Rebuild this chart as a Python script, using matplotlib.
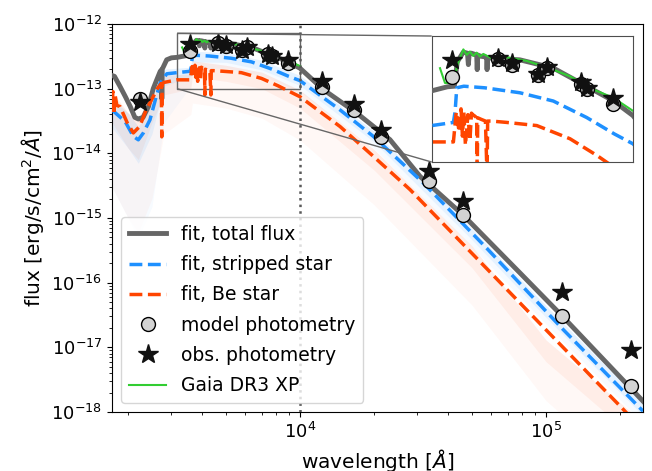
from matplotlib import pyplot as plt
from mpl_toolkits.axes_grid1.inset_locator import mark_inset
import numpy as np

# total flux of the fit (grey)
wl_tot = [1720, 1760, 1850, 1950, 2040, 2130, 2200, 2300, 2420, 2530, 2600, 2700, 2732, 2742, 2752,
          2870, 3000, 3160, 3460, 3600, 3660, 3790, 3880, 3900, 3920, 3970, 4050, 4090, 4102, 4115,
          4180, 4280, 4330, 4340, 4352, 4420, 5236, 6340, 7670, 8930, 10000, 12430, 17000, 23200,
          30760, 45800, 78300, 115900, 248000]
f_tot = [1.6e-13, 1.55e-13, 1.1e-13, 7.5e-14, 5.3e-14, 3.6e-14, 3.4e-14, 3.6e-14, 5.3e-14, 1.0e-13,
         1.3e-13, 1.85e-13, 1.95e-13, 7e-14, 2.0e-13,
         2.8e-13, 3.0e-13, 3.05e-13, 3.25e-13, 3.28e-13, 4.8e-13, 5.6e-13, 5.5e-13, 4.6e-13, 5.5e-13,
         5.5e-13, 5.4e-13, 5.35e-13, 4.25e-13, 5.35e-13,
         5.25e-13, 5.2e-13, 5.15e-13, 4.25e-13, 5.15e-13, 5.1e-13, 4.96e-13, 4.36e-13, 3.28e-13,
         2.61e-13, 2.07e-13, 9.7e-14, 4.2e-14, 1.63e-14,
         4.4e-15, 1.13e-15, 1.42e-16, 3.1e-17, 1.47e-18]

# stripped star (blue)
wl_strip = [1720, 1945, 2100, 2200, 2307, 2454, 2600, 2698, 2873, 3162, 3580, 3615, 3650, 3800,
            4280, 5236, 6340, 7670, 9000, 10000, 14540, 19860, 31700, 58100, 117500, 248000]
f_strip = [4.7e-14, 3.1e-14, 1.83e-14, 1.62e-14, 2.07e-14, 3.3e-14, 7.5e-14, 1.22e-13, 1.7e-13,
           1.77e-13, 1.86e-13, 2.2e-13, 3.2e-13, 3.28e-13,
           3.2e-13, 2.96e-13, 2.6e-13, 2.01e-13, 1.55e-13, 1.33e-13, 4.7e-14, 1.83e-14, 3.49e-15,
           3.25e-16, 1.88e-17, 1.03e-18]

# Be star (orange-red)
wl_be = [1720, 1735, 1750, 1770, 1800, 1854, 1985, 2100, 2230, 2370, 2533, 2650, 2730, 2740, 2750,
         2800, 3162, 3580, 3640, 3700, 3740, 3770, 3800, 3835, 3890, 3935, 3970, 4000, 4050, 4090,
         4102, 4115, 4200, 4300, 4340, 4355, 4450, 4855, 5770, 6975, 8130, 10000, 14540, 19860,
         28000, 49100, 94500, 206000, 248000]
f_be = [6e-14, 9e-14, 4e-14, 8e-14, 5.5e-14, 5.3e-14, 2.95e-14, 2.07e-14, 2.61e-14, 4.73e-14, 7.6e-14,
        1.05e-13, 1.2e-13, 1.8e-14, 1.2e-13,
        1.25e-13, 1.37e-13, 1.37e-13, 2.2e-13, 1.6e-13, 2.3e-13, 1.5e-13, 2.2e-13, 1.3e-13, 2.1e-13,
        1.4e-13, 2.15e-13, 2.1e-13, 2.05e-13, 2.0e-13,
        8e-14, 2.0e-13, 1.95e-13, 1.9e-13, 8e-14, 1.9e-13, 1.9e-13, 1.86e-13, 1.77e-13, 1.44e-13,
        1.11e-13, 7.5e-14, 2.6e-14, 9.0e-15,
        2.75e-15, 3.05e-16, 2.33e-17, 1.1e-18, 5.2e-19]

# spread of the posterior samples (inner and outer envelope)
wl_band = [1720, 2000, 2200, 2500, 2800, 3600, 3650, 5000, 7000, 10000, 20000, 50000, 100000, 250000]
strip_lo = [2.5e-14, 1.2e-14, 7e-15, 2e-14, 1.1e-13, 1.55e-13, 2.6e-13, 2.55e-13, 1.95e-13, 1.12e-13,
            1.5e-14, 4.6e-16, 2.9e-17, 8.5e-19]
strip_hi = [7e-14, 4.2e-14, 2.6e-14, 6e-14, 2.0e-13, 2.15e-13, 3.8e-13, 3.6e-13, 2.75e-13, 1.6e-13,
            2.2e-14, 6.8e-16, 4.4e-17, 1.3e-18]
strip_lo_out = [3e-15, 1e-15, 5e-16, 1.5e-15, 3e-14, 1.1e-13, 2.0e-13, 2.1e-13, 1.6e-13, 9e-14,
                1.2e-14, 3.6e-16, 2.3e-17, 6.5e-19]
be_lo = [3e-14, 1.2e-14, 8e-15, 3e-14, 8e-14, 1e-13, 1.5e-13, 1.3e-13, 1e-13, 5e-14, 5.5e-15,
         1.7e-16, 6e-18, 3e-19]
be_hi = [9e-14, 4.2e-14, 3.4e-14, 9e-14, 1.6e-13, 1.7e-13, 2.7e-13, 2.3e-13, 1.8e-13, 9.5e-14,
         1.15e-14, 3.7e-16, 1.3e-17, 6.8e-19]
be_lo_out = [3e-15, 1e-15, 6e-16, 2e-15, 2e-14, 4e-14, 6e-14, 5e-14, 3.5e-14, 1.6e-14, 1.6e-15,
             4.5e-17, 1.5e-18, 7e-20]

# Gaia DR3 XP spectrum
wl_gaia = [3316, 3412, 3580, 3662, 3790, 3863, 3936, 4010, 4090, 4168, 4248, 4456, 4855, 5445,
           6340, 6975, 7960, 8930, 10000]
f_gaia = [4.35e-13, 3.45e-13, 3.45e-13, 4.59e-13, 5.84e-13, 5.36e-13, 5.64e-13, 5.27e-13, 5.55e-13,
          5.22e-13, 5.44e-13, 5.08e-13, 5.16e-13, 4.88e-13,
          4.25e-13, 3.83e-13, 3.12e-13, 2.74e-13, 2.23e-13]

# photometry
wl_phot = [2240, 3560, 4625, 5000, 5820, 6110, 7430, 7700, 8930, 12320, 16580, 21430, 33590, 45800,
           115900, 221600]
f_obs = [6.3e-14, 4.95e-13, 5.1e-13, 4.7e-13, 3.95e-13, 4.45e-13, 3.5e-13, 3.2e-13, 2.74e-13,
         1.30e-13, 5.8e-14, 2.32e-14, 5.4e-15, 1.86e-15, 7.2e-17, 9.0e-18]
f_model = [7e-14, 3.8e-13, 5.0e-13, 4.6e-13, 3.9e-13, 4.35e-13, 3.4e-13, 3.15e-13, 2.48e-13,
           1.06e-13, 4.7e-14, 1.79e-14, 3.69e-15, 1.13e-15, 3.1e-17, 2.5e-18]

c_grey = '#666666'
c_blue = '#1e90ff'
c_red = '#ff4500'
c_green = '#32cd32'


def draw(ax, bands=True):
    if bands:
        ax.fill_between(wl_band, be_lo_out, be_hi, color=c_red, alpha=0.035, lw=0)
        ax.fill_between(wl_band, be_lo, be_hi, color=c_red, alpha=0.06, lw=0)
        ax.fill_between(wl_band, strip_lo_out, strip_hi, color=c_blue, alpha=0.035, lw=0)
        ax.fill_between(wl_band, strip_lo, strip_hi, color=c_blue, alpha=0.08, lw=0)
    ax.plot(wl_tot, f_tot, '-', color=c_grey, lw=3.5, label='fit, total flux', zorder=3)
    ax.plot(wl_strip, f_strip, '--', color=c_blue, lw=2.5, label='fit, stripped star', zorder=3)
    ax.plot(wl_be, f_be, '--', color=c_red, lw=2.5, label='fit, Be star', zorder=3)
    ax.plot(wl_phot, f_model, 'o', ms=10, mfc='lightgrey', mec='black', mew=1,
            label='model photometry', zorder=5)
    ax.plot(wl_phot, f_obs, '*', ms=15, color='#111111', label='obs. photometry', zorder=6)
    ax.plot(wl_gaia, f_gaia, '-', color=c_green, lw=1.5, label='Gaia DR3 XP', zorder=4)


fig = plt.figure(figsize=(6.52, 4.71), dpi=100)
ax = fig.add_axes([0.1718, 0.1253, 0.8144, 0.8237])
draw(ax)
ax.axvline(1e4, color='0.35', ls=':', lw=1.8, zorder=4)
ax.set_xscale('log')
ax.set_yscale('log')
ax.set_xlim(1720, 2.48e5)
ax.set_ylim(1e-18, 1e-12)
ax.set_xlabel(r'wavelength [$\AA$]', fontsize=14.5)
ax.set_ylabel(r'flux [erg/s/cm$^2$/$\AA$]', fontsize=14.5)
ax.tick_params(labelsize=13)
ax.legend(loc='lower left', fontsize=13.5, labelspacing=0.6, borderaxespad=0.5)

# zoom on the optical
axins = fig.add_axes([0.6621, 0.656, 0.3087, 0.2675])
draw(axins, bands=False)
axins.set_xscale('log')
axins.set_yscale('log')
axins.set_xlim(3162, 1e4)
axins.set_ylim(1e-13, 7.2e-13)
axins.set_xticks([])
axins.set_yticks([])
axins.minorticks_off()
for s in axins.spines.values():
    s.set_edgecolor('0.3')
mark_inset(ax, axins, loc1=2, loc2=3, fc='none', ec='0.4', lw=1)

fig.savefig('out.png', dpi=100)
